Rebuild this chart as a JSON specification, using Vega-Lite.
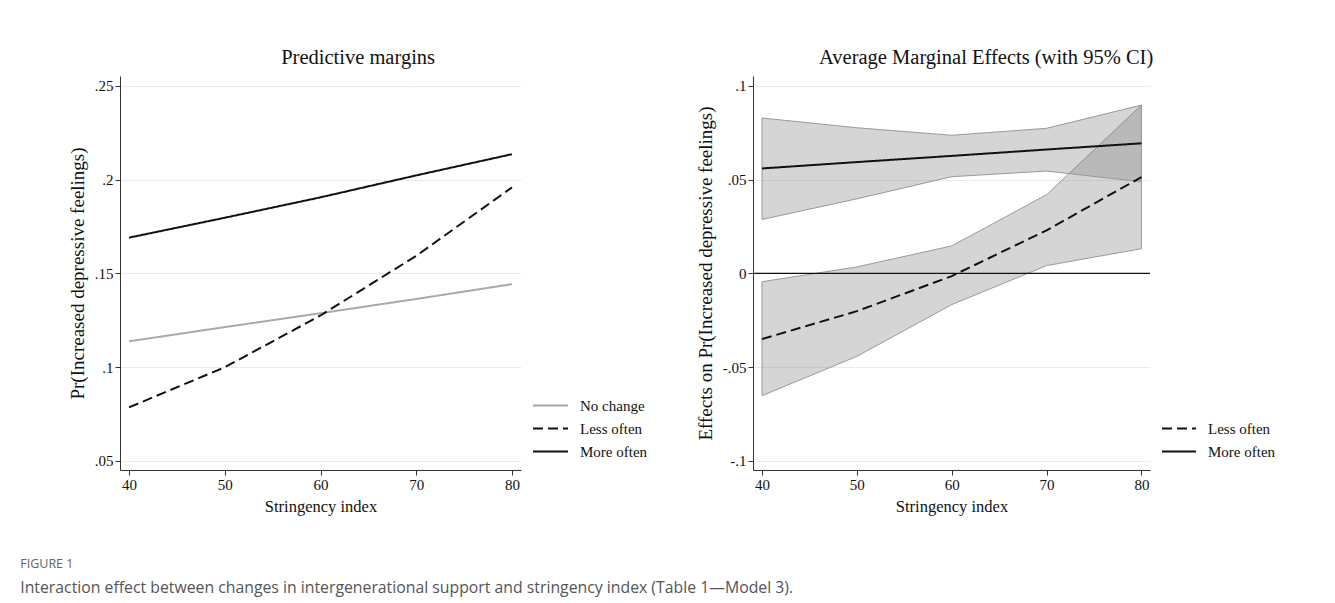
{
  "$schema": "https://vega.github.io/schema/vega-lite/v6.json",
  "background": "white",
  "padding": {"left": 20, "top": 47, "right": 10, "bottom": 5},
  "config": {
    "font": "Liberation Serif",
    "view": {"stroke": null},
    "axis": {
      "labelFont": "Liberation Serif", "titleFont": "Liberation Serif",
      "labelFontSize": 15, "titleFontSize": 16, "titleFontWeight": "normal",
      "labelColor": "#111", "titleColor": "#111",
      "domainColor": "#333", "tickColor": "#333", "gridColor": "#ebebeb",
      "tickSize": 5, "labelPadding": 2
    },
    "title": {"font": "Liberation Serif", "fontSize": 20.5, "fontWeight": "normal", "color": "#111", "offset": 8, "frame": "bounds", "anchor": "middle"}
  },
  "datasets": {
    "pm": [
      {"x": 40, "group": "No change", "y": 0.1138},
      {"x": 50, "group": "No change", "y": 0.1214},
      {"x": 60, "group": "No change", "y": 0.1288},
      {"x": 70, "group": "No change", "y": 0.1364},
      {"x": 80, "group": "No change", "y": 0.1443},
      {"x": 40, "group": "Less often", "y": 0.0786},
      {"x": 50, "group": "Less often", "y": 0.1000},
      {"x": 60, "group": "Less often", "y": 0.1276},
      {"x": 70, "group": "Less often", "y": 0.1594},
      {"x": 80, "group": "Less often", "y": 0.1959},
      {"x": 40, "group": "More often", "y": 0.1691},
      {"x": 50, "group": "More often", "y": 0.1797},
      {"x": 60, "group": "More often", "y": 0.1906},
      {"x": 70, "group": "More often", "y": 0.2023},
      {"x": 80, "group": "More often", "y": 0.2136}
    ],
    "ame": [
      {"x": 40, "group": "Less often", "y": -0.0350, "lo": -0.0652, "hi": -0.0044},
      {"x": 50, "group": "Less often", "y": -0.0201, "lo": -0.0442, "hi": 0.0035},
      {"x": 60, "group": "Less often", "y": -0.0014, "lo": -0.0166, "hi": 0.0147},
      {"x": 70, "group": "Less often", "y": 0.0230, "lo": 0.0042, "hi": 0.0420},
      {"x": 80, "group": "Less often", "y": 0.0514, "lo": 0.0132, "hi": 0.0898},
      {"x": 40, "group": "More often", "y": 0.0560, "lo": 0.0288, "hi": 0.0829},
      {"x": 50, "group": "More often", "y": 0.0594, "lo": 0.0398, "hi": 0.0777},
      {"x": 60, "group": "More often", "y": 0.0627, "lo": 0.0516, "hi": 0.0737},
      {"x": 70, "group": "More often", "y": 0.0661, "lo": 0.0546, "hi": 0.0774},
      {"x": 80, "group": "More often", "y": 0.0694, "lo": 0.0489, "hi": 0.0898}
    ],
    "zero": [{"z": 0}]
  },
  "title": {
    "text": "FIGURE 1",
    "subtitle": "Interaction effect between changes in intergenerational support and stringency index (Table 1\u2014Model 3).",
    "orient": "bottom", "anchor": "start", "frame": "bounds",
    "font": "Open Sans", "fontSize": 12.5, "fontWeight": "normal", "color": "#666",
    "subtitleFont": "Open Sans", "subtitleFontSize": 15.8, "subtitleColor": "#555",
    "subtitlePadding": 11, "offset": 43, "dx": -48
  },
  "spacing": 48,
  "resolve": {
    "scale": {"x": "independent", "y": "independent", "color": "independent", "strokeDash": "independent"},
    "legend": {"color": "independent", "strokeDash": "independent"}
  },
  "hconcat": [
    {
      "title": "Predictive margins",
      "width": 401, "height": 394,
      "data": {"name": "pm"},
      "mark": {"type": "line", "strokeWidth": 2},
      "encoding": {
        "x": {"field": "x", "type": "quantitative", "scale": {"domain": [39.06, 80.94], "nice": false, "zero": false},
              "axis": {"values": [40, 50, 60, 70, 80], "grid": false, "title": "Stringency index", "titlePadding": 6, "titleFontSize": 16.5}},
        "y": {"field": "y", "type": "quantitative", "scale": {"domain": [0.0452, 0.2553], "nice": false, "zero": false},
              "axis": {"values": [0.05, 0.1, 0.15, 0.2, 0.25], "grid": true, "title": "Pr(Increased depressive feelings)", "titlePadding": 7, "titleFontSize": 19,
                       "labelExpr": "replace(toString(datum.value), '0.', '.')"}},
        "color": {"field": "group", "type": "nominal",
                  "scale": {"domain": ["No change", "Less often", "More often"], "range": ["#aaaaaa", "#111111", "#111111"]},
                  "legend": {"orient": "none", "legendX": 412, "legendY": 318, "title": null, "symbolType": "stroke",
                             "symbolSize": 1225, "symbolStrokeWidth": 2, "labelFont": "Liberation Serif", "labelFontSize": 15,
                             "labelColor": "#111", "clipHeight": 23, "rowPadding": 0, "labelOffset": 11, "padding": 0}},
        "strokeDash": {"field": "group", "type": "nominal",
                       "scale": {"domain": ["No change", "Less often", "More often"], "range": [[1, 0], [10, 5], [1, 0]]},
                       "legend": {"orient": "none", "legendX": 412, "legendY": 318, "title": null, "symbolType": "stroke",
                             "symbolSize": 1225, "symbolStrokeWidth": 2, "labelFont": "Liberation Serif", "labelFontSize": 15,
                             "labelColor": "#111", "clipHeight": 23, "rowPadding": 0, "labelOffset": 11, "padding": 0}}
      }
    },
    {
      "title": "Average Marginal Effects (with 95% CI)",
      "width": 397, "height": 394,
      "layer": [
        {
          "data": {"name": "ame"},
          "mark": {"type": "area", "fill": "#808080", "fillOpacity": 0.33, "stroke": "#999999", "strokeWidth": 1},
          "encoding": {
            "x": {"field": "x", "type": "quantitative", "scale": {"domain": [39.05, 80.9], "nice": false, "zero": false},
                  "axis": {"values": [40, 50, 60, 70, 80], "grid": false, "title": "Stringency index", "titlePadding": 6, "titleFontSize": 16.5}},
            "y": {"field": "lo", "type": "quantitative", "scale": {"domain": [-0.1048, 0.1053], "nice": false, "zero": false},
                  "axis": {"values": [-0.1, -0.05, 0, 0.05, 0.1], "grid": true, "title": "Effects on Pr(Increased depressive feelings)", "titlePadding": 7, "titleFontSize": 19,
                           "labelExpr": "replace(toString(datum.value), '0.', '.')"}},
            "y2": {"field": "hi"},
            "detail": {"field": "group"}
          }
        },
        {
          "data": {"name": "zero"},
          "mark": {"type": "rule", "color": "#111", "strokeWidth": 1.3},
          "encoding": {"y": {"field": "z", "type": "quantitative"}}
        },
        {
          "data": {"name": "ame"},
          "mark": {"type": "line", "strokeWidth": 2},
          "encoding": {
            "x": {"field": "x", "type": "quantitative"},
            "y": {"field": "y", "type": "quantitative"},
            "color": {"field": "group", "type": "nominal",
                      "scale": {"domain": ["Less often", "More often"], "range": ["#111111", "#111111"]},
                      "legend": {"orient": "none", "legendX": 408, "legendY": 341, "title": null, "symbolType": "stroke",
                                 "symbolSize": 1156, "symbolStrokeWidth": 2, "labelFont": "Liberation Serif", "labelFontSize": 15,
                                 "labelColor": "#111", "clipHeight": 23, "rowPadding": 0, "labelOffset": 11, "padding": 0}},
            "strokeDash": {"field": "group", "type": "nominal",
                           "scale": {"domain": ["Less often", "More often"], "range": [[10, 5], [1, 0]]},
                           "legend": {"orient": "none", "legendX": 408, "legendY": 341, "title": null, "symbolType": "stroke",
                                 "symbolSize": 1156, "symbolStrokeWidth": 2, "labelFont": "Liberation Serif", "labelFontSize": 15,
                                 "labelColor": "#111", "clipHeight": 23, "rowPadding": 0, "labelOffset": 11, "padding": 0}}
          }
        }
      ]
    }
  ]
}
